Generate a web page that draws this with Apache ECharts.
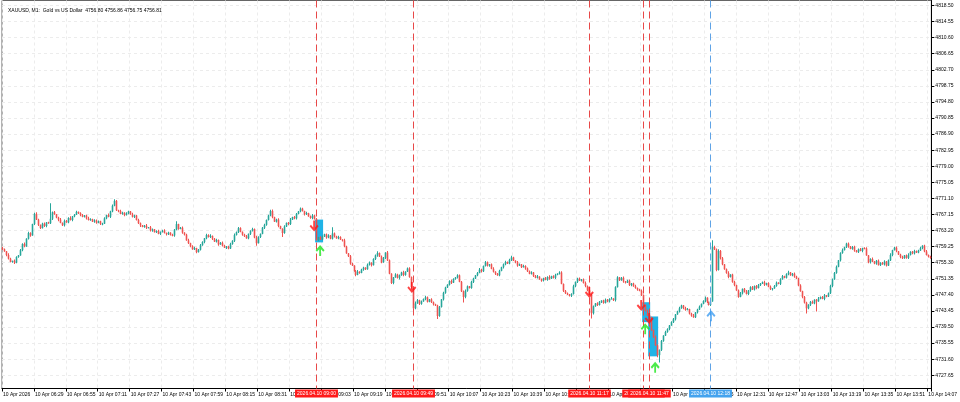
<!DOCTYPE html>
<html><head><meta charset="utf-8">
<script src="https://cdn.jsdelivr.net/npm/echarts@6/dist/echarts.min.js"></script>
<style>html,body{margin:0;padding:0;background:#fff}#c{width:960px;height:402px}</style>
</head><body><div id="c"></div>
<script>
// ---- data (XAUUSD M1, 10 Apr 2026) ----
const titleText = 'XAUUSD, M1:  Gold vs US Dollar  4756.80 4756.86 4756.75 4756.81';
const firstOpen = 4758.9;
const closes = [
4758.6,4758.1,4757.2,4756.3,4755.5,4755.8,4755.3,4756.7,4757.1,4758.4,
4759.9,4759.3,4761.2,4762.6,4762.0,4764.8,4767.3,4765.9,4764.6,4763.8,
4764.9,4764.3,4765.2,4765.0,4766.1,4767.7,4767.2,4766.4,4765.9,4765.1,
4764.5,4765.6,4765.2,4766.3,4765.8,4766.7,4767.1,4767.8,4767.5,4767.0,
4766.6,4766.9,4766.2,4765.8,4766.0,4765.4,4765.7,4765.1,4765.5,4764.8,
4764.9,4766.2,4767.0,4766.6,4767.9,4769.3,4770.5,4768.2,4768.0,4767.3,
4767.6,4767.0,4767.4,4767.9,4767.2,4766.6,4766.9,4765.8,4765.0,4764.5,
4764.1,4764.4,4763.9,4764.0,4763.2,4763.5,4762.8,4763.1,4762.4,4762.9,
4763.2,4762.6,4762.3,4762.7,4762.1,4762.0,4763.4,4764.8,4763.6,4763.9,
4762.7,4762.2,4760.8,4760.1,4759.4,4758.6,4758.9,4757.9,4758.5,4759.6,
4760.4,4761.3,4762.1,4761.6,4761.9,4761.2,4760.5,4760.9,4759.8,4760.2,
4759.5,4759.0,4759.3,4758.8,4759.9,4760.7,4762.1,4762.8,4763.8,4762.9,
4762.2,4761.8,4761.3,4762.4,4763.1,4763.6,4761.5,4760.1,4761.6,4762.4,
4763.9,4764.6,4765.8,4766.9,4768.0,4766.5,4765.4,4765.9,4764.3,4763.6,
4762.6,4764.2,4765.1,4764.8,4765.9,4766.5,4766.2,4767.3,4767.9,4768.6,
4768.0,4767.2,4767.5,4766.7,4766.3,4766.9,4766.0,4760.9,4761.6,4761.0,
4761.7,4762.3,4761.5,4762.0,4761.2,4762.5,4761.8,4761.3,4761.6,4761.0,
4760.8,4759.3,4757.6,4756.9,4755.1,4754.6,4753.3,4752.3,4753.1,4752.8,
4753.6,4754.1,4753.7,4754.8,4755.3,4754.7,4756.2,4757.1,4757.7,4756.8,
4755.4,4756.5,4757.8,4755.9,4752.6,4750.3,4751.7,4752.4,4751.6,4752.2,
4752.9,4752.3,4753.1,4753.9,4751.8,4749.3,4744.1,4745.3,4746.1,4745.2,
4745.8,4746.4,4746.8,4745.7,4746.3,4745.6,4745.1,4744.8,4742.2,4744.4,
4746.3,4747.9,4749.2,4749.9,4750.8,4750.4,4751.3,4751.7,4752.2,4750.6,
4748.3,4746.9,4748.4,4749.5,4749.1,4750.6,4751.4,4752.2,4752.8,4753.6,
4753.2,4754.5,4755.4,4754.6,4754.9,4753.8,4753.1,4752.6,4752.2,4753.3,
4754.2,4754.9,4755.5,4755.1,4756.0,4756.6,4755.8,4755.4,4754.6,4754.9,
4754.2,4754.5,4753.9,4753.2,4752.6,4752.9,4752.1,4751.6,4751.9,4751.2,
4750.9,4751.5,4751.1,4751.8,4751.4,4752.0,4751.6,4752.3,4752.6,4752.9,
4750.1,4748.4,4747.8,4747.5,4747.2,4747.6,4749.5,4750.6,4751.4,4750.9,
4751.2,4750.3,4749.6,4748.5,4747.4,4742.9,4744.6,4745.3,4744.9,4745.7,
4746.0,4745.4,4746.2,4745.8,4746.4,4746.5,4746.1,4749.3,4751.7,4751.0,
4751.6,4750.7,4750.4,4750.9,4749.8,4750.2,4749.5,4749.1,4748.7,4748.4,
4747.3,4744.8,4743.6,4742.4,4741.7,4738.7,4737.1,4735.0,4732.6,4733.9,
4736.1,4737.4,4738.3,4739.0,4739.9,4740.7,4741.4,4742.6,4743.3,4744.1,
4744.8,4744.2,4743.7,4743.9,4742.8,4742.3,4741.9,4743.1,4743.8,4744.5,
4745.2,4745.9,4746.7,4745.6,4744.9,4745.8,4759.2,4758.6,4753.5,4758.2,
4756.4,4754.9,4753.7,4752.8,4751.8,4752.4,4750.6,4749.8,4748.5,4746.9,
4747.8,4748.9,4748.2,4747.6,4748.5,4749.3,4748.7,4749.6,4749.1,4749.8,
4750.2,4750.5,4749.9,4750.3,4749.4,4748.8,4749.0,4749.6,4750.4,4750.1,
4751.3,4752.0,4751.6,4752.5,4752.9,4752.2,4752.6,4751.9,4751.4,4749.7,
4748.3,4746.9,4745.5,4744.1,4745.0,4745.7,4745.3,4746.2,4745.8,4746.5,
4746.9,4746.4,4747.3,4747.0,4747.8,4749.6,4751.2,4752.8,4754.3,4755.9,
4757.7,4758.4,4759.1,4760.0,4759.3,4758.7,4759.2,4758.3,4757.9,4758.6,
4758.2,4758.9,4758.8,4757.1,4755.4,4756.2,4755.6,4755.1,4755.8,4754.7,
4755.3,4754.9,4755.6,4754.6,4755.9,4757.2,4758.4,4759.0,4758.1,4757.3,
4756.7,4756.4,4757.1,4756.5,4757.2,4758.0,4757.6,4758.2,4757.8,4758.3,
4758.9,4759.5,4758.1,4757.2,4756.8,4756.5
];
// upper / lower wick lengths in tenths of a dollar
const wickUp = [
3,2,1,4,2,0,3,2,1,3, 2,4,1,3,2,1,3,4,2,1, 2,3,1,2,38,2,3,1,2,4, 1,3,2,2,4,1,2,3,1,2,
3,1,2,4,2,1,3,2,2,1, 2,3,1,4,2,3,4,2,1,3, 2,1,3,2,1,4,2,1,3,2, 1,2,4,1,3,2,1,2,3,1,
2,3,1,2,1,3,2,7,1,2, 3,1,2,4,1,2,3,1,2,3, 2,1,3,2,4,1,2,3,1,2, 3,2,1,2,3,1,4,2,3,2,
1,2,3,1,2,3,1,4,2,1, 2,3,1,2,3,4,1,2,3,1, 2,3,1,2,4,1,3,2,1,3, 2,1,3,1,2,4,2,3,1,2,
3,1,2,3,1,15,2,1,3,2, 1,4,2,1,3,2,1,2,4,1, 2,2,1,3,3,1,2,2,4,1, 3,2,1,4,2,1,1,3,2,2,
2,4,1,2,3,1,2,5,3,1, 2,1,4,2,1,3,2,1,2,3, 1,3,2,1,2,4,2,1,3,2, 2,2,3,2,1,3,2,1,2,4,
2,1,3,2,1,2,4,1,2,3, 1,2,3,1,3,4,2,1,3,2, 1,3,2,2,2,3,1,2,4,1, 2,1,3,2,4,1,2,3,1,3,
3,1,2,2,1,2,4,1,2,3, 1,2,4,1,2,3,2,1,3,2, 1,2,3,2,2,4,1,2,3,1, 2,3,1,2,3,1,2,4,1,2,
3,2,3,2,4,3,2,3,2,1, 2,1,3,2,1,2,3,1,2,4, 2,1,3,3,1,2,4,1,2,3, 1,2,3,1,2,2,16,3,2,4,
2,3,1,2,4,1,2,3,1,2, 3,1,2,4,1,2,3,1,2,3, 1,2,4,1,2,3,1,2,3,1, 2,3,1,2,4,1,2,3,2,2,
3,1,2,2,1,2,3,1,2,4, 1,2,3,1,2,3,2,2,3,1, 2,4,1,2,3,1,2,3,1,2, 3,1,2,3,1,2,4,1,2,3,
1,2,3,1,2,4,1,2,3,1, 2,3,1,2,4,1,2,3,1,2, 3,1,2,3,1,2
];
const wickDown = [
2,1,3,2,1,2,3,1,2,1, 3,2,1,2,3,1,2,1,3,2, 1,2,3,1,2,3,1,2,4,1, 2,3,1,2,1,3,2,1,2,3,
1,2,3,1,2,1,3,2,1,2, 3,1,2,1,3,2,1,2,3,1, 2,3,1,2,1,2,3,1,2,4, 1,2,3,1,2,3,1,2,1,3,
2,1,3,2,1,2,3,1,2,1, 3,2,1,2,3,1,2,3,1,2, 1,3,2,1,2,3,1,2,3,1, 2,1,3,2,1,2,3,1,2,1,
3,2,1,2,3,1,2,6,1,2, 1,3,2,1,2,3,1,2,3,1, 10,2,1,3,2,1,2,3,1,2, 1,3,2,1,2,3,1,2,3,1,
2,1,3,2,1,2,3,1,2,1, 3,2,1,2,3,1,2,3,1,2, 1,3,2,1,2,3,1,2,3,1, 2,1,3,2,1,2,3,1,2,4,
1,3,2,1,2,3,1,2,1,3, 2,1,3,2,1,2,3,1,7,2, 1,3,2,1,2,3,1,2,3,1, 2,14,3,2,1,2,3,1,2,1,
3,2,1,2,3,1,2,3,1,2, 1,3,2,1,2,3,1,2,3,1, 2,1,3,2,1,2,3,1,2,1, 3,2,1,2,3,1,2,3,1,2,
1,3,2,1,2,3,1,2,3,1, 2,1,3,2,1,13,3,1,2,1, 3,2,1,2,3,1,2,3,1,2, 1,3,2,1,2,3,1,2,3,1,
2,1,3,2,1,2,3,1,5,18, 3,2,1,2,3,1,2,3,1,2, 1,3,2,1,2,3,1,2,3,1, 2,1,3,2,1,2,1,2,3,1,
3,2,1,2,3,1,2,3,1,2, 1,3,2,1,2,3,1,2,3,1, 2,1,3,2,1,2,3,1,2,1, 3,2,1,2,3,1,2,3,1,2,
1,3,2,13,2,3,1,2,25,1, 2,1,3,2,1,2,3,1,2,1, 3,2,1,2,3,1,2,3,1,2, 1,3,2,1,2,3,1,2,3,1,
2,1,3,2,1,2,3,1,2,1, 3,2,1,2,3,1,2,3,1,2, 1,3,2,1,2,2
];
const tickLabels = ['10 Apr 2026','10 Apr 06:29','10 Apr 06:55','10 Apr 07:11','10 Apr 07:27','10 Apr 07:43',
'10 Apr 07:59','10 Apr 08:15','10 Apr 08:31','10 Apr 08:47','10 Apr 09:03','10 Apr 09:19','10 Apr 09:35',
'10 Apr 09:51','10 Apr 10:07','10 Apr 10:23','10 Apr 10:39','10 Apr 10:55','10 Apr 11:11','10 Apr 11:27',
'10 Apr 11:43','10 Apr 11:59','10 Apr 12:15','10 Apr 12:31','10 Apr 12:47','10 Apr 13:03','10 Apr 13:19',
'10 Apr 13:35','10 Apr 13:51','10 Apr 14:07'];
const barsPerLabel = 16;
const priceTicks = [4818.50,4814.55,4810.60,4806.65,4802.70,4798.75,4794.80,4790.85,4786.90,4782.95,
4779.00,4775.05,4771.10,4767.15,4763.20,4759.25,4755.30,4751.35,4747.40,4743.45,4739.50,4735.55,4731.60,4727.65];
const priceMin = 4724.40, priceMax = 4819.73;
// signal vertical lines: bar index, label, kind (0 = sell, 1 = buy)
const signalBars = [157, 206, 294, 321, 324, 355];
const signalLabels = ['2026.04.10 09:00','2026.04.10 09:49','2026.04.10 11:17','2026.04.10 11:44','2026.04.10 11:47','2026.04.10 12:18'];
const signalKinds = [0,0,0,0,0,1];
// arrows: [bar, price]
const sellArrows = [[156,4764.3],[205,4749.2],[294,4748.0],[320,4744.8],[324,4741.6]];
const buyArrows = [[159,4758.3],[322,4739.1],[327,4729.6]];
const blueArrows = [[355,4742.3]];
// zones: [fromBar, toBar, topPrice, bottomPrice]
const zones = [[157,160,4765.9,4760.3],[321,324,4745.6,4740.7],[324,328,4742.1,4732.3]];

// ---- build ----
const cats = closes.map((c,i)=>String(i));
const ohlc = closes.map((c,i)=>{
  const o = i ? closes[i-1] : firstOpen;
  return [i, o, c, Math.min(o,c) - wickDown[i]/10, Math.max(o,c) + wickUp[i]/10];
});
const signalData = signalBars.map((b,k)=>[b, signalKinds[k], k]);
const labelEvery = (i)=> i % barsPerLabel === 0;
const downPath = 'path://M40,0 L60,0 L60,62 L85,38 L100,52 L50,100 L0,52 L15,38 L40,62 Z';
const upPath = 'path://M50,0 L100,48 L85,62 L60,38 L60,100 L40,100 L40,38 L15,62 L0,48 Z';
const FONT = 'Liberation Sans';
const BULL = '#26a69a', BEAR = '#ef5350';
const LINE_COL = ['#e84848', '#5fa3e6'];
const LABEL_BG = ['#ff1a1a', '#45a3ee'];

function renderCandle(p, api){
  const i = api.value(0), o = api.value(1), c = api.value(2), lo = api.value(3), hi = api.value(4);
  const pHi = api.coord([i, hi]), pLo = api.coord([i, lo]);
  const pO = api.coord([i, o]), pC = api.coord([i, c]);
  const col = c >= o ? BULL : BEAR;
  const x = Math.floor(pHi[0]);
  const bTop = Math.min(pO[1], pC[1]), bH = Math.max(Math.abs(pO[1]-pC[1]), 1);
  return {type:'group', children:[
    {type:'rect', shape:{x:x, y:pHi[1], width:1, height:Math.max(pLo[1]-pHi[1],1)}, style:{fill:col}},
    {type:'rect', shape:{x:x-0.3, y:bTop, width:1.6, height:bH}, style:{fill:col}}
  ]};
}
function renderSignal(p, api){
  const b = api.value(0), kind = api.value(1), k = api.value(2);
  const top = api.coord([b, priceMax]), bot = api.coord([b, priceMin]);
  const x = Math.floor(top[0]) + 0.5;
  return {type:'group', children:[
    {type:'line', shape:{x1:x, y1:top[1], x2:x, y2:bot[1]},
      style:{stroke:LINE_COL[kind], lineWidth:1, lineDash:[7,4]}},
    {type:'text', x:x, y:bot[1]+1, z2:10,
      style:{text:signalLabels[k], fill:'#fff', font:'5px ' + FONT, align:'center', verticalAlign:'top',
        backgroundColor:LABEL_BG[kind], padding:[2,2,1,2]}}
  ]};
}

const chart = echarts.init(document.getElementById('c'), null, {renderer:'canvas'});
chart.setOption({
  animation:false,
  backgroundColor:'#ffffff',
  title:{text:titleText, left:3, top:3, textStyle:{fontSize:5, fontWeight:'normal', color:'#000', fontFamily:FONT}},
  grid:{left:0.5, right:27.5, top:0.5, bottom:13.5, show:true, borderColor:'#666', borderWidth:1},
  xAxis:{type:'category', data:cats, boundaryGap:true,
    axisLine:{lineStyle:{color:'#000'}},
    axisTick:{show:true, interval:labelEvery, length:3, lineStyle:{color:'#000'}},
    axisLabel:{interval:labelEvery, showMinLabel:true, hideOverlap:false,
      formatter:(v,i)=>tickLabels[Math.round(i/barsPerLabel)]||'', align:'left',
      fontSize:5, color:'#000', fontFamily:FONT, margin:4},
    splitLine:{show:true, interval:labelEvery, lineStyle:{color:'#ececec', type:[3,3]}}},
  yAxis:{type:'value', position:'right', min:priceMin, max:priceMax, scale:true,
    axisLine:{show:true, lineStyle:{color:'#000'}},
    axisTick:{show:true, length:3, customValues:priceTicks, lineStyle:{color:'#000'}},
    axisLabel:{customValues:priceTicks, formatter:v=>v.toFixed(2), fontSize:5, color:'#000', fontFamily:FONT, margin:4},
    splitLine:{show:true, lineStyle:{color:'#ececec', type:[3,3]}}},
  series:[
    {type:'custom', z:1, silent:true, data:zones,
      renderItem:(p, api)=>{
        const a = api.coord([api.value(0), api.value(2)]);
        const b = api.coord([api.value(1), api.value(3)]);
        return {type:'rect', shape:{x:a[0]-1, y:a[1], width:b[0]-a[0]+2, height:b[1]-a[1]}, style:{fill:'#1fb3e6'}};
      }},
    {type:'custom', z:2, silent:true, data:ohlc, encode:{x:0, y:[1,2,3,4]}, renderItem:renderCandle},
    {type:'custom', z:3, silent:true, clip:false, data:signalData, encode:{x:0}, renderItem:renderSignal},
    {type:'scatter', z:5, data:sellArrows, symbol:downPath, symbolSize:[9,11], itemStyle:{color:'#ff1414'}},
    {type:'scatter', z:5, data:buyArrows, symbol:upPath, symbolSize:[9,11], itemStyle:{color:'#1ee61e'}},
    {type:'scatter', z:5, data:blueArrows, symbol:upPath, symbolSize:[9,11], itemStyle:{color:'#3d9cf0'}}
  ]
});
</script></body></html>
